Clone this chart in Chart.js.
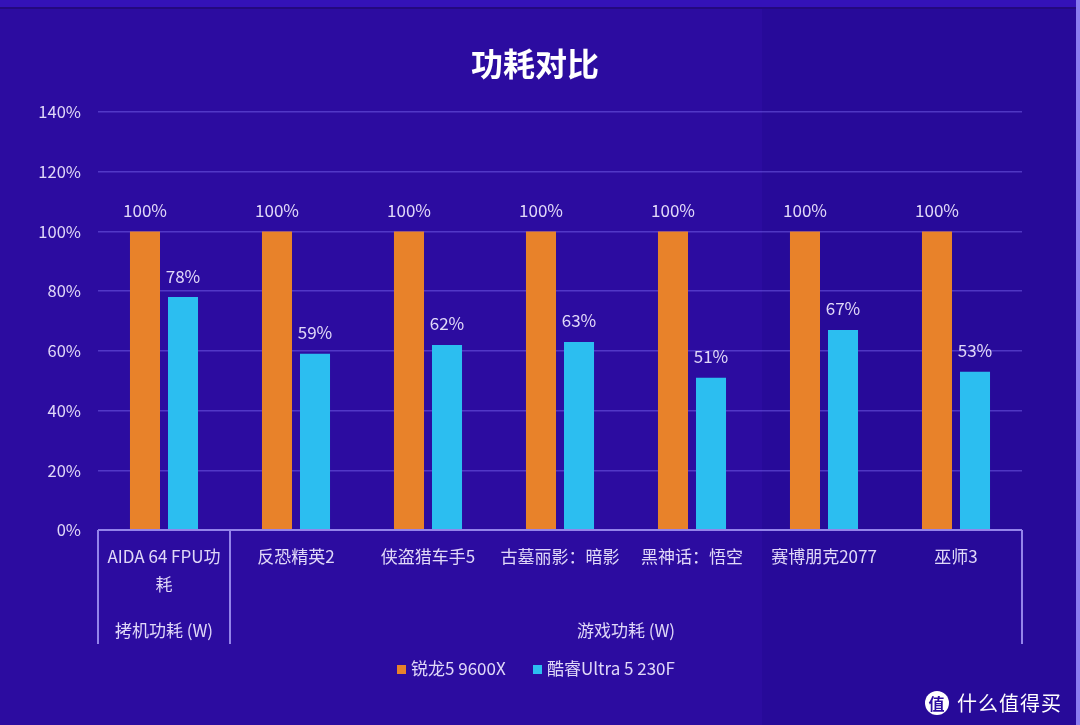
<!DOCTYPE html>
<html><head><meta charset="utf-8">
<script src="https://cdn.jsdelivr.net/npm/chart.js@4"></script>
<style>
html,body{margin:0;padding:0;background:#2c0ca0;}
#wrap{position:relative;width:1080px;height:725px;overflow:hidden;}
canvas{display:block;}
#wm{position:absolute;right:18px;bottom:8px;display:flex;align-items:center;color:#fff;font-family:"Noto Sans CJK SC";font-size:20px;letter-spacing:1px;}
#wm span.c{display:inline-block;width:24px;height:24px;border-radius:50%;background:#fff;color:#2c0ca0;font-size:16px;line-height:24px;text-align:center;margin-right:8px;font-weight:bold;}
</style></head>
<body><div id="wrap"><canvas id="c" width="1080" height="725"></canvas><div id="wm"><span class="c">值</span>什么值得买</div></div>
<script>
const title = "功耗对比";
const categories = [["AIDA 64 FPU功","耗"],["反恐精英2"],["侠盗猎车手5"],["古墓丽影：暗影"],["黑神话：悟空"],["赛博朋克2077"],["巫师3"]];
const groups = [{label:"拷机功耗 (W)", from:0, to:0},{label:"游戏功耗 (W)", from:1, to:6}];
const seriesNames = ["锐龙5 9600X","酷睿Ultra 5 230F"];
const ryzen = [100,100,100,100,100,100,100];
const ultra = [78,59,62,63,51,67,53];
const yTicks = [0,20,40,60,80,100,120,140];

const COL_O = "#e8822a", COL_B = "#2cbef0", TXT = "#e0d8f8", LINE = "#9484ea";
const FONT = '"Noto Sans CJK SC","Noto Sans",sans-serif';

const bgPlugin = {
  id:"bg",
  beforeDraw(chart){
    const c = chart.ctx;
    c.save();
    c.fillStyle="#2c0ca0"; c.fillRect(0,0,1080,725);
    c.fillStyle="#270a99"; c.fillRect(762,8,314,717);
    c.fillStyle="#3412b8"; c.fillRect(0,0,1080,7);
    c.fillStyle="#24097f"; c.fillRect(0,7,1080,2);
    c.fillStyle="#8a7cf0"; c.fillRect(1076,0,4,725);
    c.restore();
  }
};

const decoPlugin = {
  id:"deco",
  afterDraw(chart){
    const c = chart.ctx, xs = chart.scales.x, a = chart.chartArea;
    c.save();
    c.fillStyle="#ffffff"; c.font='bold 32px '+FONT; c.textAlign="center"; c.textBaseline="middle";
    c.fillText(title, 535, 64);
    c.strokeStyle=LINE; c.lineWidth=2;
    c.beginPath();
    c.moveTo(a.left, a.bottom); c.lineTo(a.right, a.bottom);
    const half = (xs.getPixelForValue(1)-xs.getPixelForValue(0))/2;
    const bounds = [a.left, xs.getPixelForValue(0)+half, a.right];
    bounds.forEach(x=>{ c.moveTo(x, a.bottom); c.lineTo(x, 644); });
    c.stroke();
    c.fillStyle=TXT; c.font='17px '+FONT; c.textAlign="center"; c.textBaseline="middle";
    categories.forEach((lines,i)=>{
      const x = xs.getPixelForValue(i);
      lines.forEach((t,j)=>c.fillText(t, x, 557+j*28));
    });
    groups.forEach(g=>{
      const l = xs.getPixelForValue(g.from)-half, r = xs.getPixelForValue(g.to)+half;
      c.fillText(g.label, (l+r)/2, 631);
    });
    c.font='17px '+FONT; c.textBaseline="middle";
    chart.data.datasets.forEach((ds,di)=>{
      chart.getDatasetMeta(di).data.forEach((bar,i)=>{
        c.fillText(ds.data[i]+"%", bar.x, bar.y-21);
      });
    });
    c.font='17px '+FONT; c.textAlign="left";
    const items = [[seriesNames[0],COL_O,397],[seriesNames[1],COL_B,533]];
    items.forEach(([t,col,x])=>{
      c.fillStyle=col; c.fillRect(x, 665, 9, 9);
      c.fillStyle=TXT; c.fillText(t, x+14, 669);
    });
    c.restore();
  }
};

new Chart(document.getElementById("c"), {
  type:"bar",
  data:{
    labels: categories.map(l=>l.join("")),
    datasets:[
      {label:seriesNames[0], data:ryzen, backgroundColor:COL_O},
      {label:seriesNames[1], data:ultra, backgroundColor:COL_B}
    ]
  },
  options:{
    responsive:false, animation:false,
    layout:{padding:{top:112,right:58,left:0,bottom:0}},
    categoryPercentage:0.576, barPercentage:0.79,
    plugins:{legend:{display:false},tooltip:{enabled:false},title:{display:false}},
    scales:{
      x:{
        grid:{display:false}, border:{display:false},
        ticks:{display:false},
        afterFit(s){ s.height = 195; }
      },
      y:{
        min:0, max:140,
        afterBuildTicks(s){ s.ticks = yTicks.map(v=>({value:v})); },
        grid:{color:"rgba(120,100,235,0.5)", lineWidth:1.5, drawTicks:false},
        border:{display:false},
        ticks:{color:TXT, font:{family:FONT, size:16.5}, padding:17, callback:v=>v+"%"},
        afterFit(s){ s.width = 98; }
      }
    }
  },
  plugins:[bgPlugin, decoPlugin]
});
</script></body></html>
